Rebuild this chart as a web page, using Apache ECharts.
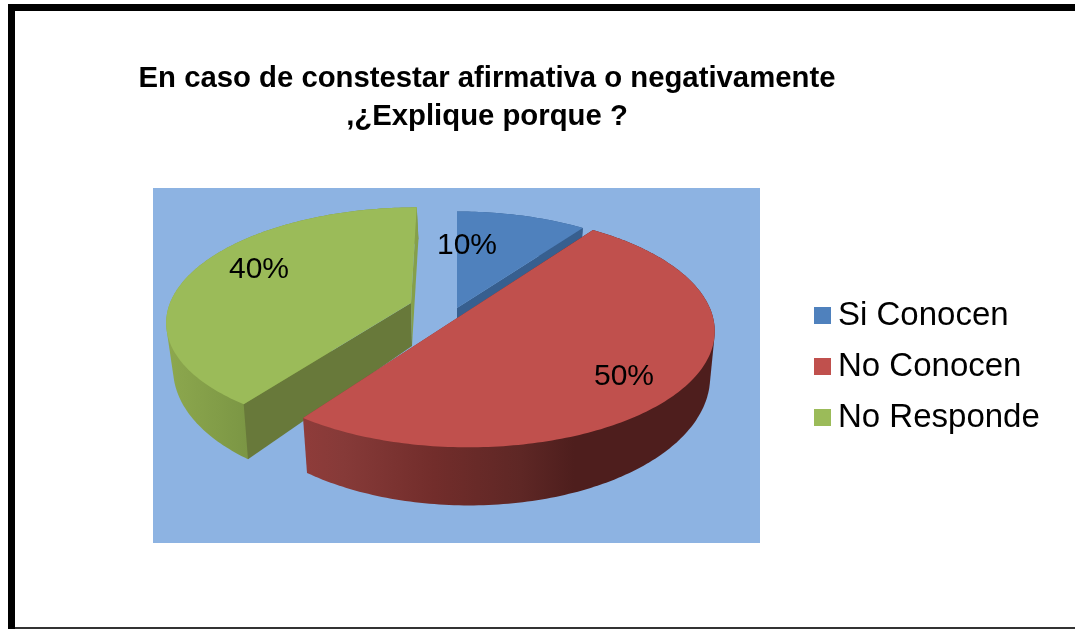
<!DOCTYPE html>
<html>
<head>
<meta charset="utf-8">
<style>html,body{margin:0;padding:0;background:#fff}#c{width:1075px;height:629px}</style>
<script src="https://cdn.jsdelivr.net/npm/echarts@6/dist/echarts.min.js"></script>
</head>
<body>
<div id="c"></div>
<script>
const categories = ['Si Conocen', 'No Conocen', 'No Responde'];
const values = [10, 50, 40];
const titleLines = ['En caso de constestar afirmativa o negativamente', ',¿Explique porque ?'];

// Projection of each exploded wedge (tilted disc seen in perspective)
const K = 0.15;
const geometry = [
  {top:{x:457,y:308,a:240,b:111,s:0}, bot:{x:457,y:351,a:235,b:123,s:0},
   face:'#4f81bd', cut:'#375f8f', endCut:'#375f8f', wall:[[0,'#375f8f'],[1,'#375f8f']], label:[467,246], gx:[457,590]},
  {top:{x:465.6,y:312.6,a:246,b:114.5,s:0.019}, bot:{x:466,y:356,a:241,b:127,s:0.019},
   face:'#c0504d', cut:null, endCut:null, wall:[[0,'#8f3c3a'],[0.1,'#863a38'],[0.32,'#722d2b'],[0.53,'#5e2725'],[0.66,'#4e1e1d'],[1,'#4e1e1d']], label:[624,377], gx:[303,714]},
  {top:{x:411,y:303,a:241,b:110,s:-0.06}, bot:{x:412,y:346,a:235,b:123,s:-0.06},
   face:'#9bbb59', cut:'#68793a', endCut:'#85a04a', wall:[[0,'#8da84e'],[1,'#7b9644']], label:[259,270], gx:[166,248]}
];
const drawOrder = [2, 0, 1];
const total = values.reduce((p, v) => p + v, 0);
const starts = values.map((_, i) => values.slice(0, i).reduce((p, v) => p + v, 0) / total * 360);

function project(g, deg, r) {
  const t = deg * Math.PI / 180, u = r * Math.sin(t), v = r * Math.cos(t), w = 1 + K * v;
  const X = g.a * u / w, Y = -g.b * v / w;
  return [g.x + X + g.s * Y, g.y + Y];
}
function arc(g, a0, a1) {
  const pts = [];
  for (let d = a0; d <= a1 + 1e-6; d += 1) pts.push(project(g, d, 1));
  return pts;
}
function hull(points) {
  const p = points.slice().sort((a, b) => a[0] - b[0] || a[1] - b[1]);
  const cross = (o, a, b) => (a[0] - o[0]) * (b[1] - o[1]) - (a[1] - o[1]) * (b[0] - o[0]);
  const half = list => {
    const h = [];
    for (const q of list) {
      while (h.length >= 2 && cross(h[h.length - 2], h[h.length - 1], q) <= 0) h.pop();
      h.push(q);
    }
    h.pop();
    return h;
  };
  return half(p).concat(half(p.slice().reverse()));
}
function renderSlice(idx) {
  return function (params, api) {
    const g = geometry[idx], a0 = starts[idx], a1 = a0 + api.value(0) / total * 360;
    const topArc = arc(g.top, a0, a1), botArc = arc(g.bot, a0, a1);
    const apexT = [g.top.x, g.top.y], apexB = [g.bot.x, g.bot.y];
    const grad = new echarts.graphic.LinearGradient(g.gx[0], 0, g.gx[1], 0, g.wall.map(s => ({offset: s[0], color: s[1]})), true);
    const poly = (points, fill) => ({type: 'polygon', shape: {points}, style: {fill}});
    const children = [poly(hull(topArc.concat(botArc)), grad)];
    if (g.cut) children.push(poly([topArc[0], apexT, apexB, botArc[0]], g.cut));
    if (g.endCut) children.push(poly([apexT, topArc[topArc.length - 1], botArc[botArc.length - 1], apexB], g.endCut));
    children.push(poly([apexT].concat(topArc), g.face));
    children.push({type: 'text', style: {text: api.value(0) + '%', x: g.label[0], y: g.label[1], align: 'center', verticalAlign: 'middle',
      font: '30px "Liberation Sans", Arial, sans-serif', fill: '#000'}});
    return {type: 'group', children};
  };
}

const chart = echarts.init(document.getElementById('c'), null, {renderer: 'canvas'});
chart.setOption({
  animation: false,
  backgroundColor: '#fff',
  title: {
    text: titleLines.join('\n'), left: 482, top: 55, textAlign: 'center',
    textStyle: {fontFamily: '"Liberation Sans", Arial, sans-serif', fontWeight: 'bold', fontSize: 29.3, lineHeight: 38, color: '#000'}
  },
  legend: {
    data: categories, orient: 'vertical', left: 814, top: 293, icon: 'rect', itemWidth: 17, itemHeight: 17, itemGap: 6,
    selectedMode: false, padding: 0,
    textStyle: {fontFamily: '"Liberation Sans", Arial, sans-serif', fontSize: 33, lineHeight: 38, color: '#000', padding: [7, 0, 0, 2]}
  },
  graphic: [
    {type: 'rect', z: 0, shape: {x: 153, y: 188, width: 607, height: 355}, style: {fill: '#8db3e2'}},
    {type: 'rect', z: 0, shape: {x: 8, y: 4, width: 1067, height: 7}, style: {fill: '#000'}},
    {type: 'rect', z: 0, shape: {x: 8, y: 4, width: 7, height: 625}, style: {fill: '#000'}},
    {type: 'rect', z: 0, shape: {x: 15, y: 627, width: 1060, height: 2}, style: {fill: '#333'}}
  ],
  series: drawOrder.map(i => ({
    type: 'custom', name: categories[i], coordinateSystem: 'none', silent: true,
    itemStyle: {color: geometry[i].face},
    renderItem: renderSlice(i),
    data: [[values[i]]]
  }))
});
</script>
</body>
</html>
